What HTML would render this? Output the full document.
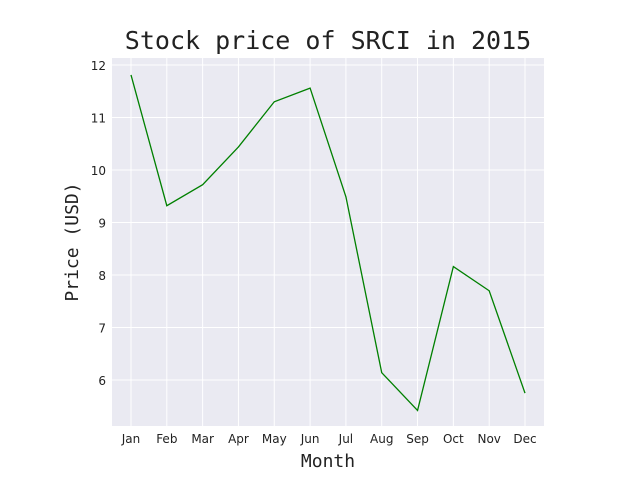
<!DOCTYPE html>
<html><head><meta charset="utf-8"><style>body{margin:0;background:#fff}svg{display:block}</style></head>
<body>
<svg id="chart" width="640" height="480" font-family="DejaVu Sans, Liberation Sans, sans-serif">
<rect x="112" y="58" width="432" height="368" fill="#eaeaf2"/>
<g id="grid"></g><g id="marks"></g><g id="ticks"></g>
<text x="328" y="49" text-anchor="middle" font-family="DejaVu Sans Mono, Liberation Mono, monospace" font-size="25" fill="#222">Stock price of SRCI in 2015</text>
<text x="328" y="467" text-anchor="middle" font-family="DejaVu Sans Mono, Liberation Mono, monospace" font-size="18" fill="#222">Month</text>
<text transform="translate(78,242) rotate(-90)" text-anchor="middle" font-family="DejaVu Sans Mono, Liberation Mono, monospace" font-size="18" fill="#222">Price (USD)</text>
</svg>
<script>
const months=["Jan","Feb","Mar","Apr","May","Jun","Jul","Aug","Sep","Oct","Nov","Dec"];
const prices=[11.81,9.32,9.72,10.44,11.30,11.56,9.49,6.14,5.42,8.16,7.70,5.75];
const yTicks=[6,7,8,9,10,11,12];
const NS="http://www.w3.org/2000/svg";
const x=i=>131+i*(525-131)/11;
const y=v=>65+(12-v)*52.5;
function mk(t,a,p){const e=document.createElementNS(NS,t);for(const k in a)e.setAttribute(k,a[k]);p.appendChild(e);return e;}
const g=document.getElementById('grid'),m=document.getElementById('marks'),tk=document.getElementById('ticks');
yTicks.forEach(v=>{
 const l=mk('line',{x1:112,x2:544,y1:y(v),y2:y(v),stroke:'#fff','stroke-width':1},g);
 
 
 const t=mk('text',{x:106,y:y(v)+5,'text-anchor':'end','font-size':12,fill:'#222'},tk);
 t.textContent=v;
 
 
});
months.forEach((mo,i)=>{
 const l=mk('line',{x1:x(i),x2:x(i),y1:58,y2:426,stroke:'#fff','stroke-width':1},g);
 
 
 const t=mk('text',{x:x(i),y:443,'text-anchor':'middle','font-size':12,fill:'#222'},tk);
 t.textContent=mo;
 
 
});
const pl=mk('polyline',{points:prices.map((v,i)=>x(i)+','+y(v)).join(' '),fill:'none',stroke:'#008000','stroke-width':1.3},m);


</script>
</body></html>
